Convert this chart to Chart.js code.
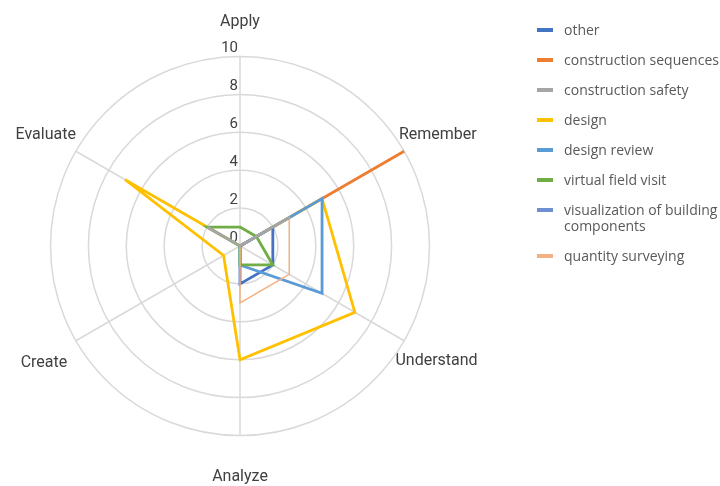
<!DOCTYPE html>
<html>
<head>
<meta charset="utf-8">
<script src="https://cdn.jsdelivr.net/npm/chart.js@4"></script>
<style>
  html, body { margin: 0; padding: 0; background: #fff; }
  #wrap { position: relative; width: 720px; height: 486px; }
  #legend { position: absolute; left: 537px; top: 22px; font-family: "Open Sans", sans-serif; font-size: 14px; color: #595959; }
  .item { display: flex; align-items: flex-start; margin-bottom: 14px; line-height: 16px; }
  .swatch { width: 16px; height: 4px; margin-top: 6px; margin-right: 11px; flex: none; }
  .text { max-width: 160px; }
</style>
</head>
<body>
<div id="wrap">
  <canvas id="chart" width="720" height="486"></canvas>
  <div id="legend"></div>
</div>
<script>
// Bloom levels around the radar
const axes = ['Apply', 'Remember', 'Understand', 'Analyze', 'Create', 'Evaluate'];
const tickLabels = [0, 2, 4, 6, 8, 10];

// one array per use case, same order as axes
const other = [0, 2, 2, 2, 0, 0];
const constructionSequences = [0, 10, 0, 0, 0, 0];
const constructionSafety = [0, 3, 0, 0, 0, 2];
const design = [0, 5, 7, 6, 1, 7];
const designReview = [0, 5, 5, 1, 0, 0];
const virtualFieldVisit = [1, 1, 2, 1, 0, 2];
const visualization = [0, 0, 0, 0, 0, 0];
const quantitySurveying = [0, 3, 3, 3, 0, 0];

const seriesNames = ['other', 'construction sequences', 'construction safety', 'design', 'design review',
  'virtual field visit', 'visualization of building components', 'quantity surveying'];
const seriesData = [other, constructionSequences, constructionSafety, design, designReview,
  virtualFieldVisit, visualization, quantitySurveying];
const seriesColors = ['#4472C4', '#ED7D31', '#A5A5A5', '#FFC000', '#5B9BD5', '#70AD47', '#6F8FD3', '#F4B183'];

// gray sits on top in the picture, the rest stack like Excel (later over earlier)
const drawOrder = [7, 9, 1, 8, 6, 3, 4, 2];

const datasets = seriesNames.map((name, i) => ({
  label: name,
  data: seriesData[i],
  borderColor: seriesColors[i],
  backgroundColor: seriesColors[i],
  borderWidth: i === 7 ? 1.5 : 2.8,
  pointRadius: 0,
  pointHoverRadius: 0,
  fill: false,
  order: drawOrder[i],
}));

// per-label tweaks so the names land where the original has them
const labelPad = [20.5, -6, -10, 33.5, 10, 0];
const labelLineHeight = [1.8, 2.46, 3.2, 1.0, 2.2, 2.03];

// tick numbers sit left of the vertical axis, just above each ring
const tickText = {
  id: 'tickText',
  beforeDatasetsDraw(chart) {
    const r = chart.scales.r;
    const ctx = chart.ctx;
    ctx.save();
    ctx.font = '15px Roboto';
    ctx.fillStyle = '#404040';
    ctx.textAlign = 'right';
    ctx.textBaseline = 'middle';
    tickLabels.forEach(v => {
      const d = r.getDistanceFromCenterForValue(v);
      ctx.fillText(String(v), r.xCenter - 2, r.yCenter - d - 8);
    });
    ctx.restore();
  }
};

new Chart(document.getElementById('chart'), {
  type: 'radar',
  data: { labels: axes, datasets },
  plugins: [tickText],
  options: {
    responsive: false,
    animation: false,
    layout: { padding: { left: 0, right: 224, top: 8, bottom: 0 } },
    plugins: { legend: { display: false }, tooltip: { enabled: false } },
    elements: { line: { tension: 0 } },
    scales: {
      r: {
        min: 0,
        max: 10,
        ticks: { stepSize: 2, display: false },
        grid: { circular: true, color: '#d9d9d9', lineWidth: 1.5 },
        angleLines: { color: '#d9d9d9', lineWidth: 1.5 },
        pointLabels: {
          font: ctx => ({ family: 'Roboto', size: 16, lineHeight: labelLineHeight[ctx.index] }),
          color: '#404040',
          padding: ctx => labelPad[ctx.index],
        },
      }
    }
  }
});

// html legend so the long name can wrap like the original
const legend = document.getElementById('legend');
legend.innerHTML = seriesNames.map((name, i) =>
  `<div class="item"><span class="swatch" style="background:${seriesColors[i]}"></span><span class="text">${name}</span></div>`
).join('');
</script>
</body>
</html>
